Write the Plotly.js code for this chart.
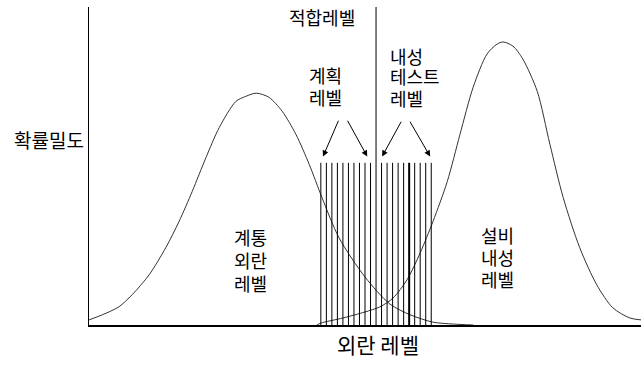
<!DOCTYPE html>
<html>
<head>
<meta charset="utf-8">
<script src="https://cdn.plot.ly/plotly-3.0.1.min.js"></script>
<style>html,body{margin:0;padding:0;background:#fff;}#chart{width:641px;height:367px;}</style>
</head>
<body>
<div id="chart"></div>
<script>
// Disturbance-level distribution (left bell)
const disturbX = [0, 2.4, 5.4, 7.8, 10.9, 13.9, 16.3, 18.7, 21.2, 23.6, 26.6, 28.4, 30.3, 32.6, 35.0, 37.5, 39.9, 42.2, 45.3, 50.0, 54.5, 58.2, 62.3, 66.0, 69.6];
const disturbY = [1.6, 3.2, 5.7, 9.5, 15.8, 24.3, 32.5, 42.0, 52.7, 62.1, 70.3, 71.9, 72.9, 71.6, 67.2, 59.9, 50.5, 40.1, 27.4, 15.1, 6.6, 3.2, 0.9, 0.3, 0];
// Equipment immunity-level distribution (right bell)
const immunX = [41.3, 42.0, 46.0, 50.0, 52.7, 55.1, 57.6, 60.0, 62.3, 64.9, 67.2, 69.6, 72.1, 73.9, 75.0, 76.8, 78.6, 81.2, 83.5, 85.9, 88.9, 92.0, 94.9, 98.0, 100];
const immunY = [0, 0.6, 2.2, 4.1, 5.7, 8.5, 14.2, 22.7, 32.5, 45.1, 59.9, 74.8, 85.2, 88.3, 89.0, 87.7, 83.6, 73.5, 56.8, 40.1, 24.3, 12.6, 5.4, 2.2, 1.6];
// Planning levels and immunity test levels (vertical lines)
const planningLevels = [42, 43, 44, 45, 46, 47, 48, 49, 50, 51];
const testLevels = [53, 54, 55, 56, 57, 59, 60, 61, 62];
const boldTestLevel = [58];
const levelLineHeight = 51;
const compatibilityLevel = 52;
const compatibilityHeight = 100;

function vlines(xs, h) {
  const x = [], y = [];
  xs.forEach(v => { x.push(v, v, null); y.push(0, h, null); });
  return {x, y};
}
const pl = vlines(planningLevels.concat(testLevels), levelLineHeight);
const bl = vlines(boldTestLevel, levelLineHeight);
const cl = vlines([compatibilityLevel], compatibilityHeight);

const F = 'Noto Sans CJK KR, Noto Sans, sans-serif';
const traces = [
  {x: disturbX, y: disturbY, mode: 'lines', line: {color: '#333', width: 1, shape: 'spline', smoothing: 0.8}},
  {x: immunX, y: immunY, mode: 'lines', line: {color: '#333', width: 1, shape: 'spline', smoothing: 0.8}},
  {x: pl.x, y: pl.y, mode: 'lines', line: {color: '#000', width: 1}},
  {x: bl.x, y: bl.y, mode: 'lines', line: {color: '#000', width: 2}},
  {x: cl.x, y: cl.y, mode: 'lines', line: {color: '#000', width: 1}}
];

// text placed in pixel space of the plot area (paper coords)
const PL = 89, PW = 552, PT = 7, PH = 318;
function txt(text, px, py, size, opts) {
  return Object.assign({text, x: (px - PL) / PW, y: 1 - (py - PT) / PH, xref: 'paper', yref: 'paper',
    showarrow: false, xanchor: 'center', yanchor: 'middle',
    font: {family: F, size: size || 18, color: '#000'}}, opts || {});
}
function arrow(x, y, ax, ay) {
  return {text: '', x, y, ax, ay, xref: 'x', yref: 'y', axref: 'x', ayref: 'y',
    showarrow: true, arrowhead: 2, arrowsize: 1.2, arrowwidth: 1, arrowcolor: '#000'};
}

const layout = {
  width: 641, height: 367,
  margin: {l: 89, r: 0, t: 7, b: 42, pad: 0},
  paper_bgcolor: '#fff', plot_bgcolor: '#fff',
  showlegend: false,
  xaxis: {range: [0, 100], showgrid: false, zeroline: false, showticklabels: false, ticks: '',
          showline: true, linecolor: '#000', linewidth: 2},
  yaxis: {range: [0, 100], showgrid: false, zeroline: false, showticklabels: false, ticks: '',
          showline: true, linecolor: '#000', linewidth: 1.5},
  annotations: [
    txt('적합레벨', 322, 17, 18),
    txt('계획', 325, 74.5, 18),
    txt('레벨', 325, 96.5, 18),
    txt('내성', 388, 55.5, 18, {xanchor: 'left'}),
    txt('테스트', 388, 75.5, 18, {xanchor: 'left'}),
    txt('레벨', 388, 97.5, 18, {xanchor: 'left'}),
    txt('계통', 250, 236.5, 18),
    txt('외란', 250, 260, 18),
    txt('레벨', 250, 283, 18),
    txt('설비', 497, 235, 18),
    txt('내성', 497, 257, 18),
    txt('레벨', 497, 279, 18),
    txt('확률밀도', 49, 139, 19),
    txt('외란 레벨', 378, 344, 21),
    arrow(42.4, 53.0, 45.3, 64.7),
    arrow(50.4, 53.0, 46.7, 64.7),
    arrow(53.1, 53.0, 56.7, 64.4),
    arrow(61.8, 53.0, 58.0, 64.4)
  ]
};
Plotly.newPlot('chart', traces, layout, {staticPlot: true, displayModeBar: false});
</script>
</body>
</html>
